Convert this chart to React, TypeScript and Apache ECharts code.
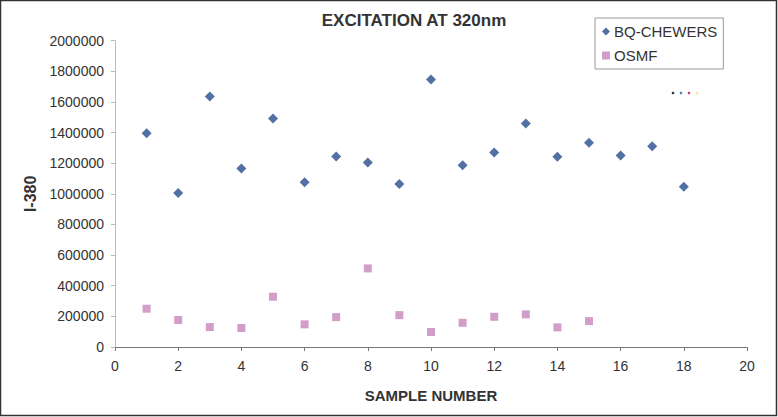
import React, { useEffect, useRef } from "react";
import * as echarts from "echarts";

const sampleNumbers = [1, 2, 3, 4, 5, 6, 7, 8, 9, 10, 11, 12, 13, 14, 15, 16, 17, 18];
const bqChewers = [1395000, 1005000, 1635000, 1165000, 1492000, 1075000, 1244000, 1205000, 1064000, 1746000, 1186000, 1270000, 1459000, 1242000, 1333000, 1251000, 1311000, 1047000];
const osmf = [250000, 176000, 130000, 124000, 328000, 148000, 195000, 513000, 208000, 98000, 158000, 197000, 213000, 128000, 169000];

const FONT = "Liberation Sans, Arial, sans-serif";

export default function App() {
  const ref = useRef<HTMLDivElement>(null);
  useEffect(() => {
    if (!ref.current) return;
    const chart = echarts.init(ref.current, null, { renderer: "svg" });
    chart.setOption({
      animation: false,
      backgroundColor: "#ffffff",
      title: {
        text: "EXCITATION AT 320nm",
        left: 409,
        top: 7,
        textAlign: "center",
        textStyle: { fontFamily: FONT, fontSize: 17, fontWeight: "bold", color: "#333333" },
      },
      legend: {
        orient: "vertical",
        left: 595,
        top: 18,
        padding: [6, 6, 6, 7],
        itemGap: 9,
        itemWidth: 8,
        itemHeight: 8,
        borderColor: "#999999",
        borderWidth: 1,
        textStyle: { fontFamily: FONT, fontSize: 15, color: "#333333", padding: [0, 0, 0, -1] },
        data: [
          { name: "BQ-CHEWERS", icon: "diamond" },
          { name: "OSMF", icon: "rect" },
        ],
      },
      grid: { left: 115, right: 31, top: 40.7, bottom: 70, containLabel: false },
      xAxis: {
        type: "value",
        min: 0,
        max: 20,
        interval: 2,
        name: "SAMPLE NUMBER",
        nameLocation: "middle",
        nameGap: 41,
        nameTextStyle: { fontFamily: FONT, fontSize: 15, fontWeight: "bold", color: "#333333" },
        axisLine: { show: true, lineStyle: { color: "#777777", width: 1 } },
        axisTick: { show: true, length: 4, lineStyle: { color: "#777777" } },
        axisLabel: { fontFamily: FONT, fontSize: 14, color: "#333333", margin: 12 },
        splitLine: { show: false },
      },
      yAxis: {
        type: "value",
        min: 0,
        max: 2000000,
        interval: 200000,
        name: "I-380",
        nameLocation: "middle",
        nameGap: 77,
        nameRotate: 90,
        nameTextStyle: { fontFamily: FONT, fontSize: 16, fontWeight: "bold", color: "#333333" },
        axisLine: { show: true, lineStyle: { color: "#bbbbbb", width: 1 } },
        axisTick: { show: true, length: 4, lineStyle: { color: "#bbbbbb" } },
        axisLabel: {
          fontFamily: FONT,
          fontSize: 14,
          color: "#333333",
          margin: 11,
          formatter: (v: number) => String(v),
        },
        splitLine: { show: false },
      },
      series: [
        {
          name: "BQ-CHEWERS",
          type: "scatter",
          symbol: "diamond",
          symbolSize: 10,
          itemStyle: { color: "#274c8c" },
          data: bqChewers.map((v, i) => [sampleNumbers[i], v]),
        },
        {
          name: "OSMF",
          type: "scatter",
          symbol: "rect",
          symbolSize: 8,
          itemStyle: { color: "#c585bd" },
          data: osmf.map((v, i) => [sampleNumbers[i], v]),
        },
      ],
      graphic: [
        {
          type: "rect",
          shape: { x: 0.5, y: 0.5, width: 776, height: 415 },
          style: { fill: "none", stroke: "#333333", lineWidth: 1.5 },
          silent: true,
        },
        { type: "circle", shape: { cx: 673, cy: 93, r: 1.3 }, style: { fill: "#333333" } },
        { type: "circle", shape: { cx: 681, cy: 93, r: 1.3 }, style: { fill: "#3a8fc8" } },
        { type: "circle", shape: { cx: 689, cy: 93, r: 1.3 }, style: { fill: "#c0407a" } },
        { type: "circle", shape: { cx: 697, cy: 93, r: 1.3 }, style: { fill: "#eeee88" } },
      ],
    });
    return () => chart.dispose();
  }, []);
  return (
    <div
      ref={ref}
      style={{ position: "fixed", left: 0, top: 0, width: 778, height: 417 }}
    />
  );
}
